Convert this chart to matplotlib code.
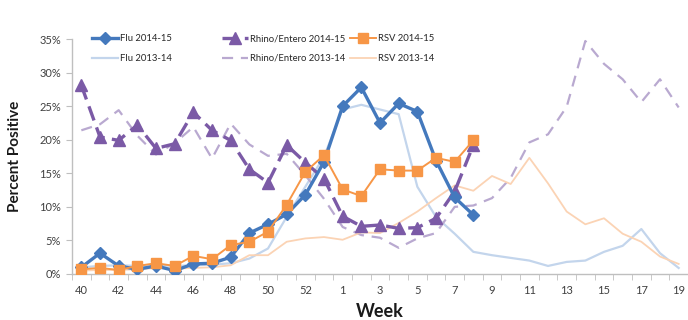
import matplotlib
matplotlib.use("Agg")
import matplotlib.pyplot as plt
from matplotlib.ticker import FixedLocator, FuncFormatter
import numpy as np

plt.rcParams['font.family'] = ['Lato', 'DejaVu Sans']

weeks = [40, 41, 42, 43, 44, 45, 46, 47, 48, 49, 50, 51, 52, 53,
         1, 2, 3, 4, 5, 6, 7, 8, 9, 10, 11, 12, 13, 14, 15, 16, 17, 18, 19]

flu_1415 = [1.0, 3.1, 1.2, 0.7, 1.2, 0.5, 1.5, 1.6, 2.5, 6.1, 7.4, 8.9, 11.8, 16.7,
            25.0, 27.8, 22.5, 25.4, 24.2, 16.9, 11.4, 8.8]
rhino_1415 = [28.1, 20.4, 19.9, 22.2, 18.7, 19.4, 24.1, 21.4, 19.9, 15.6, 13.6, 19.2, 16.6, 14.2,
              8.6, 7.1, 7.3, 6.8, 6.9, 8.3, 12.3, 19.2]
rsv_1415 = [0.7, 0.9, 0.6, 1.2, 1.6, 1.2, 2.7, 2.2, 4.3, 4.8, 6.3, 10.3, 15.2, 17.7,
            12.6, 11.6, 15.6, 15.4, 15.4, 17.3, 16.7, 19.9]

flu_1314 = [1.0, 1.2, 1.3, 1.2, 1.3, 1.2, 1.3, 1.4, 1.6, 2.3, 3.8, 8.5, 13.0, 17.5,
            24.5, 25.2, 24.5, 23.8, 13.0, 8.5, 6.0, 3.3, 2.8, 2.4, 2.0, 1.2, 1.8, 2.0,
            3.3, 4.2, 6.7, 3.1, 0.9]
rhino_1314 = [21.4, 22.3, 24.4, 20.6, 17.8, 19.5, 21.9, 17.2, 22.4, 19.3, 17.6, 17.9, 14.7, 11.2,
              7.0, 5.8, 5.4, 3.9, 5.3, 6.1, 10.0, 10.2, 11.3, 14.3, 19.6, 20.8, 24.9, 34.7,
              31.3, 29.0, 25.6, 29.0, 24.8]
rsv_1314 = [0.5, 0.6, 0.6, 0.7, 0.9, 0.8, 0.9, 1.0, 1.3, 2.8, 2.8, 4.8, 5.3, 5.5,
            5.1, 6.2, 6.1, 7.6, 9.3, 11.3, 13.2, 12.4, 14.6, 13.4, 17.3, 13.5, 9.3, 7.4,
            8.3, 6.0, 4.8, 2.6, 1.5]

y_ticks = [0, 5, 10, 15, 20, 25, 30, 35]

fig = plt.figure(figsize=(6.88, 3.2), dpi=100)
ax = fig.add_axes([72/688, 46/320, 616/688, 235/320])

x_all = np.arange(len(weeks))

h_flu14, = ax.plot(np.arange(len(flu_1314)), flu_1314, color='#c3d5ec', lw=1.6,
                   label='Flu 2013-14', zorder=2)
h_rh14, = ax.plot(np.arange(len(rhino_1314)), rhino_1314, color='#b9a9d0', lw=1.6,
                  dashes=(5, 3.5), label='Rhino/Entero 2013-14', zorder=2)
h_rsv14, = ax.plot(np.arange(len(rsv_1314)), rsv_1314, color='#fbd3b4', lw=1.3,
                   label='RSV 2013-14', zorder=2)

h_flu15, = ax.plot(np.arange(len(flu_1415)), flu_1415, color='#4479bd', lw=2.4,
                   marker='D', ms=6.5, label='Flu 2014-15', zorder=4)
h_rh15, = ax.plot(np.arange(len(rhino_1415)), rhino_1415, color='#7b5aa6', lw=2.4,
                  dashes=(4.5, 2.2), marker='^', ms=8.5, label='Rhino/Entero 2014-15', zorder=3)
h_rsv15, = ax.plot(np.arange(len(rsv_1415)), rsv_1415, color='#f79646', lw=1.4,
                   marker='s', ms=6.5, label='RSV 2014-15', zorder=5)

ax.set_xlim(-0.5, len(weeks) - 0.5)
ax.set_ylim(0, 35)

ax.xaxis.set_major_locator(FixedLocator(x_all[::2]))
ax.set_xticklabels([str(w) for w in weeks[::2]])
ax.xaxis.set_minor_locator(FixedLocator(np.arange(-0.5, len(weeks), 1.0)))
ax.tick_params(axis='x', which='major', length=0, pad=8, labelsize=8, labelcolor='#404040')
ax.tick_params(axis='x', which='minor', length=4, color='#bfbfbf', direction='out')

ax.set_yticks(y_ticks)
ax.yaxis.set_major_formatter(FuncFormatter(lambda v, p: f"{int(v)}%"))
ax.tick_params(axis='y', length=4, color='#bfbfbf', direction='out', pad=4,
               labelsize=8, labelcolor='#404040')

for s in ['top', 'right']:
    ax.spines[s].set_visible(False)
for s in ['left', 'bottom']:
    ax.spines[s].set_color('#bfbfbf')
    ax.spines[s].set_linewidth(1.0)

ax.set_xlabel('Week', fontsize=13, fontweight='bold', color='#1a1a1a', labelpad=5)
ax.set_ylabel('Percent Positive', fontsize=11, fontweight='bold', color='#1a1a1a', labelpad=12)

cols = [(92, [h_flu15, h_flu14]), (222, [h_rh15, h_rh14]), (350, [h_rsv15, h_rsv14])]
for xpx, hs in cols:
    leg = fig.legend(handles=hs, loc='upper left', bbox_to_anchor=(xpx/688, 1 - 34/320),
                     frameon=False, fontsize=6.8, handlelength=2.75, handletextpad=0.25,
                     labelspacing=1.15, borderpad=0, borderaxespad=0, numpoints=1)
    for t in leg.get_texts():
        t.set_color('#262626')

fig.savefig('out.png', dpi=100)
